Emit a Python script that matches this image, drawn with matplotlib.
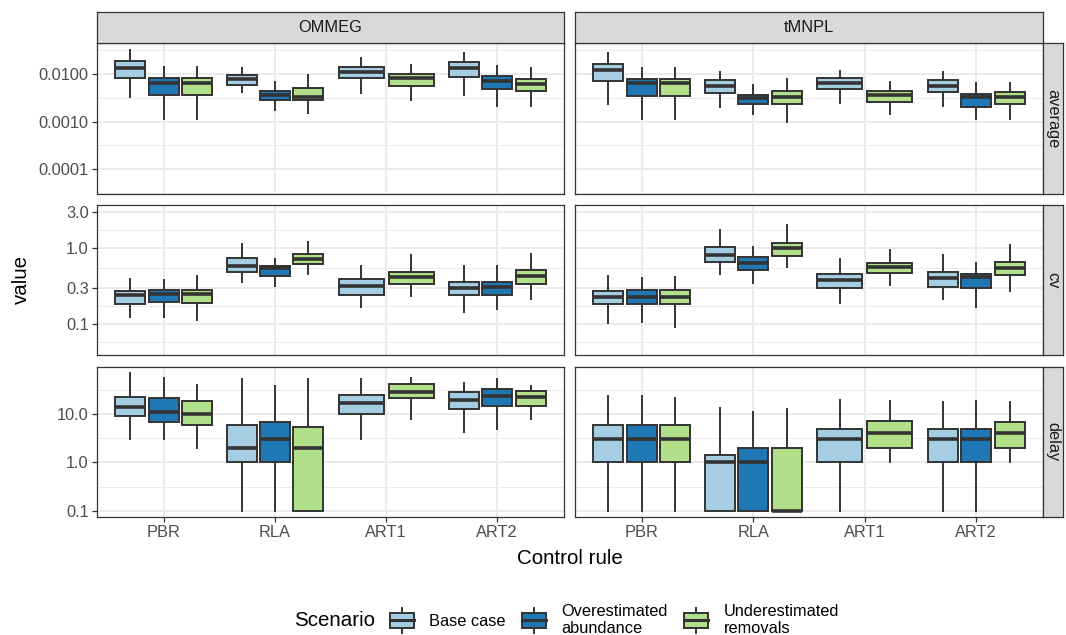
import numpy as np
import matplotlib
matplotlib.use("Agg")
import matplotlib.pyplot as plt
from matplotlib.patches import Rectangle, Patch
from matplotlib.lines import Line2D
from matplotlib.legend_handler import HandlerBase
from matplotlib.ticker import NullFormatter

plt.rcParams['font.family'] = ['Liberation Sans', 'DejaVu Sans']

rules = ["PBR", "RLA", "ART1", "ART2"]
scenarios = ["Base case", "Overestimated\nabundance", "Underestimated\nremovals"]
colors = ["#A6CEE3", "#1F78B4", "#B2DF8A"]
models = ["OMMEG", "tMNPL"]
metrics = ["average", "cv", "delay"]

# per rule, per scenario: [whislo, q1, median, q3, whishi]  (None = scenario not run)
ommeg_average = [
    [[0.00325, 0.0081, 0.0132, 0.0187, 0.0319], [0.00114, 0.00363, 0.00638, 0.00836, 0.0142], [0.00114, 0.0036, 0.0064, 0.0081, 0.0138]],
    [[0.00413, 0.00588, 0.00774, 0.00953, 0.0132], [0.00176, 0.00285, 0.00363, 0.00447, 0.0069], [0.0015, 0.00285, 0.0033, 0.00508, 0.0095]],
    [[0.004, 0.0082, 0.011, 0.014, 0.0216], None, [0.00285, 0.0056, 0.0082, 0.01, 0.0155]],
    [[0.00363, 0.00865, 0.0134, 0.0179, 0.0276], [0.00214, 0.00485, 0.00713, 0.0091, 0.0147], [0.00214, 0.0044, 0.0062, 0.0079, 0.0134]],
]
tmnpl_average = [
    [[0.00232, 0.00713, 0.0121, 0.016, 0.0272], [0.00114, 0.0035, 0.00658, 0.00786, 0.0136], [0.00114, 0.0035, 0.00658, 0.0078, 0.0136]],
    [[0.002, 0.00405, 0.00569, 0.00738, 0.0112], [0.00145, 0.00232, 0.00319, 0.00357, 0.00588], [0.001, 0.00232, 0.00325, 0.0044, 0.00786]],
    [[0.0025, 0.00478, 0.00638, 0.0081, 0.0117], None, [0.00145, 0.00263, 0.00363, 0.0044, 0.0069]],
    [[0.00216, 0.0042, 0.0056, 0.00748, 0.0112], [0.00114, 0.00207, 0.00334, 0.0038, 0.00638], [0.00114, 0.00232, 0.00325, 0.00413, 0.00638]],
]
ommeg_cv = [
    [[0.125, 0.184, 0.241, 0.275, 0.393], [0.125, 0.195, 0.247, 0.281, 0.381], [0.113, 0.191, 0.247, 0.281, 0.431]],
    [[0.362, 0.491, 0.584, 0.751, 1.14], [0.318, 0.435, 0.544, 0.589, 0.716], [0.457, 0.62, 0.72, 0.84, 1.21]],
    [[0.168, 0.241, 0.318, 0.393, 0.58], None, [0.234, 0.337, 0.418, 0.486, 0.82]],
    [[0.144, 0.241, 0.299, 0.359, 0.58], [0.158, 0.241, 0.308, 0.359, 0.58], [0.214, 0.337, 0.431, 0.517, 0.84]],
]
tmnpl_cv = [
    [[0.103, 0.184, 0.23, 0.273, 0.431], [0.106, 0.184, 0.23, 0.28, 0.41], [0.092, 0.184, 0.23, 0.28, 0.42]],
    [[0.457, 0.659, 0.815, 1.04, 1.75], [0.35, 0.52, 0.64, 0.77, 1.04], [0.566, 0.79, 1.0, 1.17, 2.03]],
    [[0.19, 0.3, 0.381, 0.458, 0.72], None, [0.33, 0.47, 0.566, 0.64, 0.95]],
    [[0.214, 0.308, 0.405, 0.486, 0.816], [0.168, 0.3, 0.418, 0.458, 0.64], [0.273, 0.445, 0.55, 0.66, 1.1]],
]
ommeg_delay = [
    [[3, 9, 14, 22, 70], [3, 7, 11, 21, 55], [2, 6, 10, 19, 40]],
    [[0.1, 1, 2, 6, 52], [0.1, 1, 3, 7, 38], [0.1, 0.1, 2, 5.3, 52]],
    [[3, 10, 17, 25, 52], None, [8, 21, 28, 42, 55]],
    [[4.3, 12.7, 19.5, 28, 44], [5, 14.6, 23.6, 33, 52], [8, 15, 22, 30, 38]],
]
tmnpl_delay = [
    [[0.1, 1, 3, 6, 24], [0.1, 1, 3, 6, 24], [0.1, 1, 3, 6, 21]],
    [[0.1, 0.1, 1, 1.4, 13.5], [0.1, 0.1, 1, 2, 10.8], [0.1, 0.1, 0.1, 2, 12.5]],
    [[0.1, 1, 3, 5, 19.5], None, [1, 2, 4.1, 7.2, 18.6]],
    [[0.1, 1, 3, 5, 17.5], [0.1, 1, 3, 5, 18.6], [1, 2, 4, 7, 17.5]],
]

panels = {
    ("OMMEG", "average"): ommeg_average, ("tMNPL", "average"): tmnpl_average,
    ("OMMEG", "cv"): ommeg_cv, ("tMNPL", "cv"): tmnpl_cv,
    ("OMMEG", "delay"): ommeg_delay, ("tMNPL", "delay"): tmnpl_delay,
}

ylims = {"average": (10 ** -4.52, 10 ** -1.35), "cv": (10 ** -1.41, 10 ** 0.572), "delay": (10 ** -1.13, 10 ** 1.973)}
yticks = {"average": [1e-4, 1e-3, 1e-2], "cv": [0.1, 0.3, 1.0, 3.0], "delay": [0.1, 1.0, 10.0]}
ylabs = {"average": ["0.0001", "0.0010", "0.0100"], "cv": ["0.1", "0.3", "1.0", "3.0"], "delay": ["0.1", "1.0", "10.0"]}
yminor = {"average": [-4.5, -3.5, -2.5, -1.5], "cv": [-1.239, -0.761, -0.261, 0.239], "delay": [-0.5, 0.5, 1.5]}

EDGE = "#333333"
W, H = 1066, 635
fs_small = 11.8
fs_big = 14.8

fig = plt.figure(figsize=(W / 100, H / 100), dpi=100)

col_x = [97, 575]
col_w = [467, 468]
row_y = [43, 205, 367]
row_h = [151, 150, 150]

for r, metric in enumerate(metrics):
    for c, model in enumerate(models):
        ax = fig.add_axes([col_x[c] / W, 1 - (row_y[r] + row_h[r]) / H, col_w[c] / W, row_h[r] / H])
        ax.set_yscale("log")
        data = panels[(model, metric)]
        for s in range(3):
            stats, pos, wid = [], [], []
            for i, rule_boxes in enumerate(data):
                present = [k for k in range(3) if rule_boxes[k] is not None]
                if s not in present:
                    continue
                n = len(present)
                slot = 0.9 / n
                j = present.index(s)
                lo, q1, med, q3, hi = rule_boxes[s]
                stats.append(dict(whislo=lo, q1=q1, med=med, q3=q3, whishi=hi, fliers=[]))
                pos.append(i + 1 - 0.45 + slot * (j + 0.5))
                wid.append(slot * 0.9)
            ax.bxp(stats, positions=pos, widths=wid, patch_artist=True, showfliers=False,
                   showcaps=False, manage_ticks=False,
                   boxprops=dict(facecolor=colors[s], edgecolor=EDGE, linewidth=1.4),
                   medianprops=dict(color=EDGE, linewidth=2.6, solid_capstyle="butt"),
                   whiskerprops=dict(color=EDGE, linewidth=1.4))
        ax.set_xlim(0.4, 4.6)
        ax.set_ylim(*ylims[metric])
        ax.set_xticks(range(1, 5))
        ax.set_yticks(yticks[metric])
        ax.set_yticks([10 ** v for v in yminor[metric]], minor=True)
        ax.yaxis.set_minor_formatter(NullFormatter())
        ax.xaxis.set_minor_locator(matplotlib.ticker.NullLocator())
        ax.set_axisbelow(True)
        ax.grid(which="major", color="#EBEBEB", linewidth=1.4)
        ax.grid(which="minor", axis="y", color="#EBEBEB", linewidth=0.7)
        ax.tick_params(which="minor", length=0)
        ax.tick_params(which="major", color=EDGE, width=0.9, length=3.5, pad=2.5,
                       labelsize=fs_small, labelcolor="#4D4D4D")
        if c == 0:
            ax.set_yticklabels(ylabs[metric])
        else:
            ax.tick_params(axis="y", left=False, labelleft=False)
        if r == 2:
            ax.set_xticklabels(rules)
        else:
            ax.tick_params(axis="x", bottom=False, labelbottom=False)
        for sp in ax.spines.values():
            sp.set_color(EDGE)
            sp.set_linewidth(0.9)

        if r == 0:
            st = fig.add_axes([col_x[c] / W, 1 - 43 / H, col_w[c] / W, 31 / H])
            st.set_facecolor("#D9D9D9")
            st.set_xticks([])
            st.set_yticks([])
            for sp in st.spines.values():
                sp.set_color(EDGE)
                sp.set_linewidth(0.9)
            st.text(0.5, 0.5, model, ha="center", va="center", fontsize=fs_small,
                    color="#1A1A1A", transform=st.transAxes)
        if c == 1:
            st = fig.add_axes([1043 / W, 1 - (row_y[r] + row_h[r]) / H, 20 / W, row_h[r] / H])
            st.set_facecolor("#D9D9D9")
            st.set_xticks([])
            st.set_yticks([])
            for sp in st.spines.values():
                sp.set_color(EDGE)
                sp.set_linewidth(0.9)
            st.text(0.5, 0.5, metric, ha="center", va="center", fontsize=fs_small,
                    color="#1A1A1A", rotation=-90, transform=st.transAxes)

fig.text(21 / W, 1 - 280 / H, "value", rotation=90, ha="center", va="center", fontsize=fs_big)
fig.text(570 / W, 1 - 558 / H, "Control rule", ha="center", va="center", fontsize=fs_big)


class BoxKey(HandlerBase):
    def create_artists(self, legend, orig_handle, xdescent, ydescent, width, height, fontsize, trans):
        x0, y0 = -xdescent, -ydescent
        fc = orig_handle.get_facecolor()
        box = Rectangle((x0 + 0.04 * width, y0), 0.92 * width, height, facecolor=fc,
                        edgecolor=EDGE, linewidth=1.4, transform=trans)
        xm = x0 + width / 2
        med = Line2D([x0 + 0.04 * width, x0 + 0.96 * width], [y0 + height / 2] * 2,
                     color=EDGE, linewidth=2.2, transform=trans)
        top = Line2D([xm, xm], [y0 + height, y0 + 1.3 * height], color=EDGE, linewidth=1.4, transform=trans)
        bot = Line2D([xm, xm], [y0 - 0.3 * height, y0], color=EDGE, linewidth=1.4, transform=trans)
        return [top, bot, box, med]


handles = [Patch(facecolor=col) for col in colors]
fig.text(294 / W, 1 - 620 / H, "Scenario", ha="left", va="center", fontsize=fs_big)
fig.legend(handles, scenarios, handler_map={Patch: BoxKey()}, ncol=3, loc="center left",
           bbox_to_anchor=(389 / W, 1 - 620 / H), frameon=False, fontsize=fs_small,
           handlelength=1.6, handleheight=1.1, handletextpad=0.85, columnspacing=0.95,
           borderpad=0, borderaxespad=0)

fig.savefig("out.png", dpi=100)
